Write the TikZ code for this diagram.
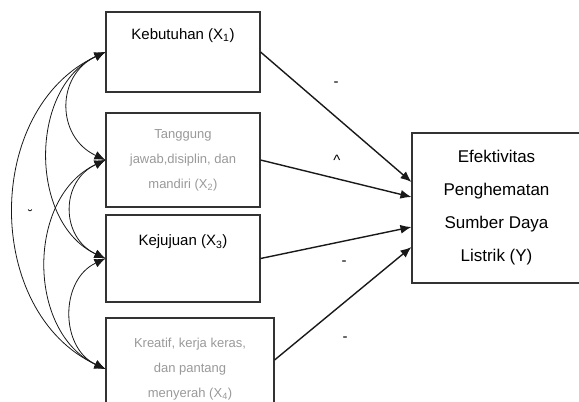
\documentclass[tikz,border=0pt]{standalone}
\usepackage{fontspec}
\setmainfont{Liberation Sans}
\usetikzlibrary{arrows.meta}

\begin{document}
\begin{tikzpicture}[x=1pt,y=1pt,
  kotak/.style={draw=black!80, line width=1.1pt, inner sep=0pt, align=center},
  abu/.style={text=black!40},
  panah/.style={-{Latex[length=11pt,width=9pt]}, line width=1.4pt, draw=black!90},
  lengkung/.style={{Latex[length=11pt,width=9pt]}-{Latex[length=11pt,width=9pt]}, line width=0.8pt, draw=black!90},
  tanda/.style={inner sep=0pt, font=\fontsize{15}{15}\selectfont}]
%set diagram as 579 x 402
\useasboundingbox (0,0) rectangle (579,-402);
\clip (0,0) rectangle (579,-402);

% Text Node
\draw (183,-52) node [kotak, minimum width=154, minimum height=80, font=\fontsize{15}{28}\selectfont] (k1) {Kebutuhan (X\textsubscript{1})\\ \strut};
% Text Node
\draw (183,-160) node [kotak, abu, minimum width=154, minimum height=94, font=\fontsize{13}{25}\selectfont] (k2) {Tanggung\\jawab,disiplin, dan\\mandiri (X\textsubscript{2})};
% Text Node
\draw (183,-258.5) node [kotak, minimum width=154, minimum height=87, font=\fontsize{15}{28}\selectfont] (k3) {Kejujuan (X\textsubscript{3})\\ \strut};
% Text Node
\draw (190,-369) node [kotak, abu, minimum width=168, minimum height=102, font=\fontsize{13}{25}\selectfont] (k4) {Kreatif, kerja keras,\\dan pantang\\menyerah (X\textsubscript{4})};
% Text Node
\draw (496.5,-208) node [kotak, minimum width=169, minimum height=150, font=\fontsize{17}{33}\selectfont] (ef) {Efektivitas\\Penghematan\\Sumber Daya\\Listrik (Y)};

%Straight Lines
\draw [panah] (k1.east) -- ([yshift=26pt]ef.west);
%Straight Lines
\draw [panah] (k2.east) -- ([yshift=11pt]ef.west);
%Straight Lines
\draw [panah] (k3.east) -- ([yshift=-19pt]ef.west);
%Straight Lines
\draw [panah] ([yshift=9pt]k4.east) -- ([yshift=-39pt]ef.west);

%Curve Lines
\draw [lengkung] (k1.west) to [out=205, in=155, looseness=1.3] (k2.west);
%Curve Lines
\draw [lengkung] (k2.west) to [out=205, in=155, looseness=1.3] (k3.west);
%Curve Lines
\draw [lengkung] (k3.west) to [out=205, in=155, looseness=1.17] (k4.west);
%Curve Lines
\draw [lengkung] (k1.west) to [out=205, in=155, looseness=1.05] (k3.west);
%Curve Lines
\draw [lengkung] (k2.west) to [out=205, in=155, looseness=1.07] (k4.west);
%Curve Lines
\draw [lengkung] (k1.west) to [out=205, in=155, looseness=1.09] (k4.west);

% Text Node
\draw (336,-84) node [tanda] (t1) {-};
% Text Node
\draw (337,-160) node [tanda] (t2) {\^{}};
% Text Node
\draw (344,-263) node [tanda] (t3) {-};
% Text Node
\draw (345,-339) node [tanda] (t4) {-};
% Text Node
\draw (28,-215) node [tanda] (t5) {\u{}};

\end{tikzpicture}
\end{document}
